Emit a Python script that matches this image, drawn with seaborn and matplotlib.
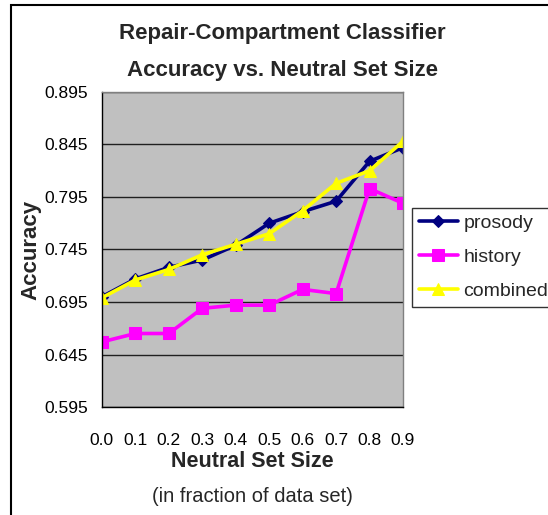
import matplotlib
matplotlib.use('agg')
import matplotlib.pyplot as plt
from matplotlib.patches import Rectangle
import seaborn as sns
import pandas as pd

# neutral set size (fraction of data set)
sizes = ['0.0', '0.1', '0.2', '0.3', '0.4', '0.5', '0.6', '0.7', '0.8', '0.9']
prosody = [0.700, 0.717, 0.728, 0.735, 0.749, 0.770, 0.781, 0.791, 0.829, 0.842]
history = [0.657, 0.665, 0.665, 0.689, 0.692, 0.692, 0.707, 0.703, 0.803, 0.789]
combined = [0.699, 0.716, 0.726, 0.740, 0.750, 0.760, 0.782, 0.808, 0.820, 0.848]
yticks = [0.595, 0.645, 0.695, 0.745, 0.795, 0.845, 0.895]

series = {'prosody': prosody, 'history': history, 'combined': combined}
colors = {'prosody': '#000080', 'history': '#FF00FF', 'combined': '#FFFF00'}
markers = {'prosody': 'D', 'history': 's', 'combined': '^'}
msizes = {'prosody': 6, 'history': 8, 'combined': 9}

df = pd.DataFrame([(k, s, v) for k, vals in series.items() for s, v in zip(sizes, vals)],
                  columns=['series', 'size', 'acc'])

sns.set_style('white')
plt.rcParams['font.family'] = ['Liberation Sans', 'DejaVu Sans']

fig = plt.figure(figsize=(5.48, 5.15), dpi=100)
ax = fig.add_axes([0.186, 0.2097, 0.5494, 0.6117])
ax.set_facecolor('#C0C0C0')

for name in series:
    sns.lineplot(data=df[df.series == name], x='size', y='acc', ax=ax,
                 color=colors[name], marker=markers[name], markersize=msizes[name],
                 markeredgecolor=colors[name], linewidth=2.6, label=name,
                 sort=False, errorbar=None)

ax.set_xlim(0, len(sizes) - 1)
ax.set_ylim(0.595, 0.895)
ax.set_yticks(yticks)
ax.set_yticklabels(['%.3f' % t for t in yticks], fontsize=12.5)
ax.set_xticks(range(len(sizes)))
ax.set_xticklabels(sizes, fontsize=12.5)
ax.tick_params(axis='x', direction='out', length=6, width=1, pad=13, colors='black')
ax.tick_params(axis='y', direction='out', length=6, width=1, pad=4, colors='black')
ax.yaxis.grid(True, color='#202020', linewidth=1)
ax.set_axisbelow(True)
for side in ['left', 'bottom']:
    ax.spines[side].set_color('black')
    ax.spines[side].set_linewidth(1)
for side in ['top', 'right']:
    ax.spines[side].set_color('#808080')
    ax.spines[side].set_linewidth(1)

ax.set_xlabel('')
ax.set_ylabel('Accuracy', fontsize=16, fontweight='bold', labelpad=2)

fig.text(0.515, 0.935, 'Repair-Compartment Classifier', ha='center', va='center',
         fontsize=16, fontweight='bold')
fig.text(0.515, 0.864, 'Accuracy vs. Neutral Set Size', ha='center', va='center',
         fontsize=16, fontweight='bold')
fig.text(0.46, 0.103, 'Neutral Set Size', ha='center', va='center',
         fontsize=15.5, fontweight='bold')
fig.text(0.46, 0.036, '(in fraction of data set)', ha='center', va='center', fontsize=14.5)

leg = ax.legend(loc='upper left', bbox_to_anchor=(0.752, 0.597), bbox_transform=fig.transFigure,
                frameon=True, fancybox=False, fontsize=14, handlelength=2.0,
                handletextpad=0.3, borderpad=0.35, labelspacing=0.85, borderaxespad=0)
leg.get_frame().set_edgecolor('black')
leg.get_frame().set_linewidth(1)

# outer chart border
fig.patches.append(Rectangle((11 / 548, -0.1), 1.2, 1 - 5 / 515 + 0.1, transform=fig.transFigure,
                             fill=False, edgecolor='black', linewidth=1.5))

fig.savefig('out.png', dpi=100)
